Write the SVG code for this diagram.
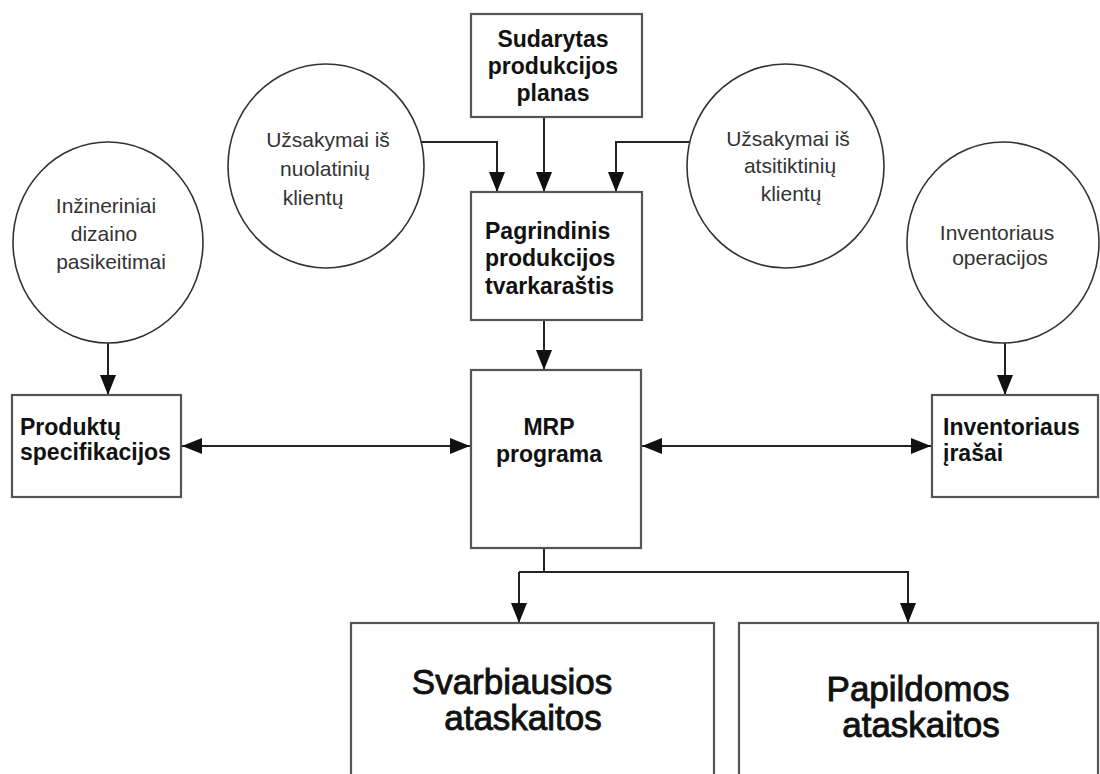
<svg xmlns="http://www.w3.org/2000/svg" width="1100" height="774" viewBox="0 0 1100 774">
  <defs>
    <marker id="head" markerUnits="userSpaceOnUse" markerWidth="20" markerHeight="16" viewBox="0 0 20 16" refX="20" refY="8" orient="auto-start-reverse">
      <path d="M0,0 L20,8 L0,16 Z" fill="#111"/>
    </marker>
  </defs>
  <style>
    .box { fill: #fff; stroke: #555; stroke-width: 2.2; }
    .src { fill: #fff; stroke: #333; stroke-width: 1.6; }
    .wire { fill: none; stroke: #222; stroke-width: 2; }
    .arrow { marker-end: url(#head); }
    .both { marker-start: url(#head); marker-end: url(#head); }
    .lbl { font-family: "Liberation Sans", Arial, sans-serif; font-size: 21px; fill: #333; text-anchor: middle; }
    .bold { font-family: "Liberation Sans", Arial, sans-serif; font-size: 23px; font-weight: bold; fill: #111; }
    .mid { text-anchor: middle; }
    .big { font-family: "Liberation Sans", Arial, sans-serif; font-size: 35px; fill: #111; stroke: #111; stroke-width: 0.9; text-anchor: middle; }
  </style>
  <rect width="1100" height="774" fill="#fff"/>

  <!-- connectors -->
  <g id="connectors">
    <path class="wire arrow" d="M544,117 V192"/>
    <path class="wire arrow" d="M421,142 H497 V192"/>
    <path class="wire arrow" d="M690,142 H616 V192"/>
    <path class="wire arrow" d="M544,320 V370"/>
    <path class="wire arrow" d="M108,343 V395"/>
    <path class="wire arrow" d="M1005,343 V395"/>
    <path class="wire both" d="M182,446 H470"/>
    <path class="wire both" d="M642,446 H931"/>
    <path class="wire" d="M544,548 V572"/>
    <path class="wire arrow" d="M519,572 H908 V623"/>
    <path class="wire arrow" d="M519,572 V623"/>
  </g>

  <g id="sudarytas-planas">
    <rect class="box" x="471" y="14" width="171" height="103"/>
    <text class="bold mid" x="553" y="47">Sudarytas</text>
    <text class="bold mid" x="553" y="74">produkcijos</text>
    <text class="bold mid" x="553" y="101">planas</text>
  </g>

  <g id="nuolatiniai-klientai">
    <ellipse class="src" cx="326" cy="166" rx="98" ry="102"/>
    <text class="lbl" x="328" y="147">Užsakymai iš</text>
    <text class="lbl" x="325" y="176">nuolatinių</text>
    <text class="lbl" x="313" y="205">klientų</text>
  </g>

  <g id="atsitiktiniai-klientai">
    <ellipse class="src" cx="785.5" cy="166" rx="98.5" ry="102"/>
    <text class="lbl" x="788" y="146">Užsakymai iš</text>
    <text class="lbl" x="790" y="173">atsitiktinių</text>
    <text class="lbl" x="791" y="201">klientų</text>
  </g>

  <g id="dizaino-pasikeitimai">
    <ellipse class="src" cx="108" cy="242.5" rx="95" ry="100.5"/>
    <text class="lbl" x="106" y="213">Inžineriniai</text>
    <text class="lbl" x="104" y="241">dizaino</text>
    <text class="lbl" x="111" y="269">pasikeitimai</text>
  </g>

  <g id="inventoriaus-operacijos">
    <ellipse class="src" cx="1003" cy="242.5" rx="96" ry="100.5"/>
    <text class="lbl" x="997" y="240">Inventoriaus</text>
    <text class="lbl" x="1000" y="265">operacijos</text>
  </g>

  <g id="pagrindinis-tvarkarastis">
    <rect class="box" x="471" y="192" width="171" height="128"/>
    <text class="bold" x="485" y="239">Pagrindinis</text>
    <text class="bold" x="485" y="266">produkcijos</text>
    <text class="bold" x="485" y="294">tvarkaraštis</text>
  </g>

  <g id="mrp-programa">
    <rect class="box" x="471" y="370" width="170" height="178"/>
    <text class="bold mid" x="549" y="435">MRP</text>
    <text class="bold mid" x="549" y="462">programa</text>
  </g>

  <g id="produktu-specifikacijos">
    <rect class="box" x="12" y="395" width="169" height="102"/>
    <text class="bold" x="20" y="435">Produktų</text>
    <text class="bold" x="20" y="460">specifikacijos</text>
  </g>

  <g id="inventoriaus-irasai">
    <rect class="box" x="932" y="395" width="166" height="102"/>
    <text class="bold" x="943" y="435">Inventoriaus</text>
    <text class="bold" x="943" y="461">įrašai</text>
  </g>

  <g id="svarbiausios-ataskaitos">
    <rect class="box" x="351" y="623" width="363" height="160"/>
    <text class="big" x="512" y="694">Svarbiausios</text>
    <text class="big" x="523" y="730">ataskaitos</text>
  </g>

  <g id="papildomos-ataskaitos">
    <rect class="box" x="739" y="623" width="359" height="160"/>
    <text class="big" x="918" y="701">Papildomos</text>
    <text class="big" x="921" y="737">ataskaitos</text>
  </g>
</svg>
